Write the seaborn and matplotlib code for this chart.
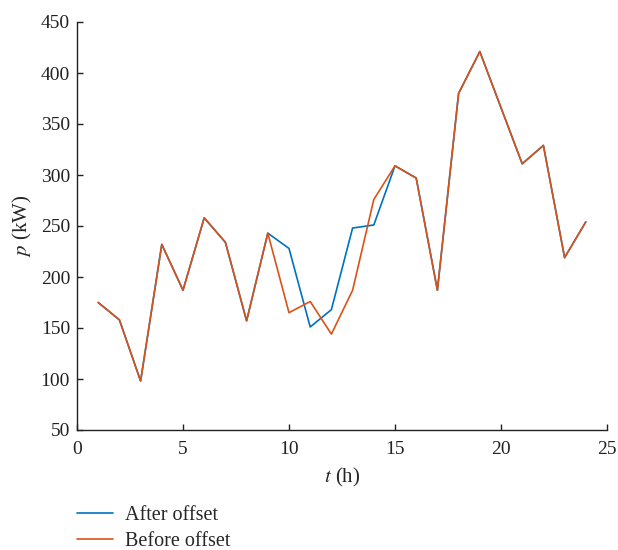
import matplotlib
matplotlib.use("Agg")
import matplotlib.pyplot as plt
import seaborn as sns
import pandas as pd

hours = list(range(1, 25))
after_offset = [175, 158, 98, 232, 187, 258, 234, 157, 243, 228, 151, 168,
                248, 251, 309, 297, 187, 380, 421, 366, 311, 329, 219, 254]
before_offset = [175, 158, 98, 232, 187, 258, 234, 157, 243, 165, 176, 144,
                 187, 276, 309, 297, 187, 380, 421, 366, 311, 329, 219, 254]
series_names = ["After offset", "Before offset"]
colors = ["#0072BD", "#D95319"]

df = pd.DataFrame({
    "t": hours * 2,
    "p": after_offset + before_offset,
    "series": [series_names[0]] * len(hours) + [series_names[1]] * len(hours),
})

sns.set_style("ticks")
plt.rcParams["font.family"] = ["Liberation Serif", "DejaVu Serif"]
plt.rcParams["mathtext.fontset"] = "stix"

fig = plt.figure(figsize=(6.18, 5.5), dpi=100)
ax = fig.add_axes([77 / 618, 1 - 430 / 550, (607 - 77) / 618, (430 - 22) / 550])

sns.lineplot(data=df, x="t", y="p", hue="series", palette=colors,
             hue_order=series_names, ax=ax, linewidth=1.2, legend=False)

ax.set_xlim(0, 25)
ax.set_ylim(50, 450)
ax.set_xticks([0, 5, 10, 15, 20, 25])
ax.set_yticks(range(50, 451, 50))
ax.tick_params(direction="in", length=4, width=1, labelsize=14, colors="#222222")
ax.tick_params(axis="x", pad=8)
ax.tick_params(axis="y", pad=5)
for s in ["top", "right"]:
    ax.spines[s].set_visible(False)
for s in ["left", "bottom"]:
    ax.spines[s].set_linewidth(1.0)
    ax.spines[s].set_color("#222222")

ax.set_xlabel(r"$\mathit{t}$ (h)", fontsize=15, labelpad=6)
ax.set_ylabel(r"$\mathit{p}$ (kW)", fontsize=15, labelpad=5)

handles = [plt.Line2D([], [], color=c, linewidth=1.2) for c in colors]
fig.legend(handles, series_names, loc="upper left",
           bbox_to_anchor=(77 / 618, 1 - 506 / 550), frameon=False,
           fontsize=14.5, handlelength=1.8, handletextpad=0.58, labelspacing=0.36,
           borderaxespad=0, borderpad=0)

fig.savefig("out.png", dpi=100)
